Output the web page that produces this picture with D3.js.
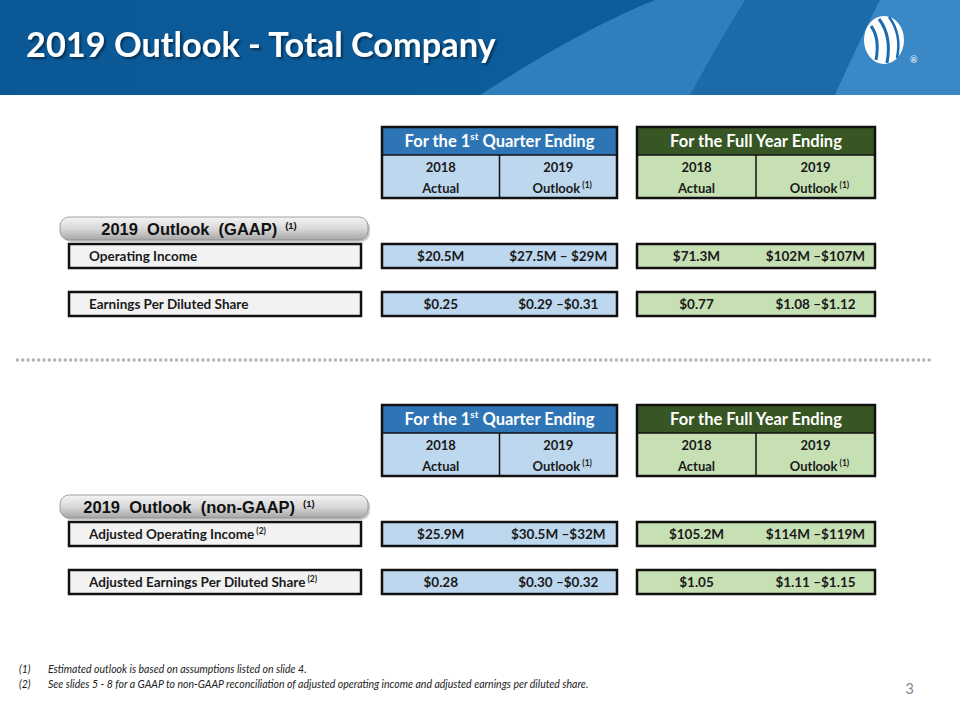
<!DOCTYPE html>
<html><head><meta charset="utf-8">
<script src="https://cdn.jsdelivr.net/npm/d3@7"></script>
<style>body{margin:0;background:#fff}svg{display:block}</style>
</head><body>
<script>
// ---------- data ----------
const title = "2019 Outlook - Total Company";
const periodHeaders = ["For the 1st Quarter Ending", "For the Full Year Ending"];
const subHeaders = [["2018","Actual"],["2019","Outlook"],["2018","Actual"],["2019","Outlook"]];
const sectionTitles = ["2019  Outlook  (GAAP)", "2019  Outlook  (non-GAAP)"];
const gaapMetrics = ["Operating Income", "Earnings Per Diluted Share"];
const gaapQ1 = [["$20.5M", "$27.5M \u2013 $29M"], ["$0.25", "$0.29 \u2013$0.31"]];
const gaapFY = [["$71.3M", "$102M \u2013$107M"], ["$0.77", "$1.08 \u2013$1.12"]];
const nonGaapMetrics = ["Adjusted Operating Income", "Adjusted Earnings Per Diluted Share"];
const nonGaapQ1 = [["$25.9M", "$30.5M \u2013$32M"], ["$0.28", "$0.30 \u2013$0.32"]];
const nonGaapFY = [["$105.2M", "$114M \u2013$119M"], ["$1.05", "$1.11 \u2013$1.15"]];
const footnotes = [["(1)", "Estimated outlook is based on assumptions listed on slide 4."],
                   ["(2)", "See slides 5 - 8 for a GAAP to non-GAAP reconciliation of adjusted operating income and adjusted earnings per diluted share."]];
const pageNumber = "3";

// ---------- layout ----------
const W = 960, H = 720;
const svg = d3.select("body").append("svg").attr("width", W).attr("height", H);
const F = "Lato, 'Open Sans', sans-serif";
const defs = svg.append("defs");

// banner
const bg = defs.append("linearGradient").attr("id","bannerG").attr("x1",0).attr("x2",1).attr("y1",0).attr("y2",0);
bg.append("stop").attr("offset",0).attr("stop-color","#0b5896");
bg.append("stop").attr("offset",1).attr("stop-color","#0d5f9e");
svg.append("rect").attr("width",W).attr("height",95).attr("fill","url(#bannerG)");
svg.append("path").attr("d","M480,95 Q580,30 655,0 L960,0 L960,95 Z").attr("fill","#2f7fbf");
svg.append("path").attr("d","M690,95 Q720,40 745,0 L880,0 Q860,40 835,95 Z").attr("fill","#1d6aa9");
svg.append("path").attr("d","M835,95 Q860,40 880,0 L960,0 L960,95 Z").attr("fill","#3a88c6");
const sh = defs.append("filter").attr("id","tshadow").attr("x","-5%").attr("y","-20%").attr("width","110%").attr("height","150%");
sh.append("feDropShadow").attr("dx",2).attr("dy",2).attr("stdDeviation",1).attr("flood-color","#000").attr("flood-opacity",0.45);
svg.append("text").attr("x",26).attr("y",57).attr("fill","#fff").attr("filter","url(#tshadow)")
  .attr("font-family",F).attr("font-weight",700).attr("font-size",34.3).text(title);

// logo
const logo = svg.append("g").attr("transform","translate(884,40)");
logo.append("ellipse").attr("rx",20).attr("ry",24).attr("fill","#fff");
logo.append("path").attr("d","M-13,-14 Q-4,-2 -8,20").attr("stroke","#1a6bb0").attr("stroke-width",3).attr("fill","none");
logo.append("path").attr("d","M-5,-21 Q8,-4 3,23").attr("stroke","#1a6bb0").attr("stroke-width",3).attr("fill","none");
logo.append("path").attr("d","M5,-23 Q18,-6 13,18").attr("stroke","#1a6bb0").attr("stroke-width",2.5).attr("fill","none");
svg.append("text").attr("x",910).attr("y",63).attr("fill","#fff").attr("font-family",F).attr("font-size",9).text("\u00AE");

// scales for value columns
const groupX = d3.scaleOrdinal().domain([0,1]).range([382, 637]);
const groupW = [235, 238];
const colX = d3.scalePoint().domain([0,1]).range([0.25, 0.75]);
const headFill = ["#2e75b6", "#375623"];
const subFill = ["#bdd7ee", "#c6e0b4"];

function header(y0) {
  [0,1].forEach(g => {
    const x = groupX(g), w = groupW[g];
    svg.append("rect").attr("x",x).attr("y",y0).attr("width",w).attr("height",28).attr("fill",headFill[g]);
    svg.append("rect").attr("x",x).attr("y",y0+28).attr("width",w).attr("height",43).attr("fill",subFill[g]);
    svg.append("line").attr("x1",x).attr("x2",x+w).attr("y1",y0+28).attr("y2",y0+28).attr("stroke","#111").attr("stroke-width",1.5);
    svg.append("line").attr("x1",x+w/2).attr("x2",x+w/2).attr("y1",y0+28).attr("y2",y0+71).attr("stroke","#111").attr("stroke-width",1.5);
    svg.append("rect").attr("x",x).attr("y",y0).attr("width",w).attr("height",71).attr("fill","none").attr("stroke","#111").attr("stroke-width",2.5);
    const t = svg.append("text").attr("x",x+w/2).attr("y",y0+20).attr("text-anchor","middle").attr("fill","#fff")
      .attr("font-family",F).attr("font-weight",700).attr("font-size",16.5);
    if (g===0) {
      t.append("tspan").text("For the 1");
      t.append("tspan").attr("dy",-7).attr("font-size",10).text("st");
      t.append("tspan").attr("dy",7).text(" Quarter Ending");
    } else t.text(periodHeaders[1]);
    [0,1].forEach(c => {
      const s = subHeaders[g*2+c];
      const cx = x + w*colX(c);
      svg.append("text").attr("x",cx).attr("y",y0+45).attr("text-anchor","middle").attr("fill","#1a1a1a")
        .attr("font-family",F).attr("font-weight",700).attr("font-size",13).text(s[0]);
      const t2 = svg.append("text").attr("x",cx + (c===1?4:0)).attr("y",y0+66).attr("text-anchor","middle").attr("fill","#1a1a1a")
        .attr("font-family",F).attr("font-weight",700).attr("font-size",13);
      t2.append("tspan").text(s[1]);
      if (c===1) { t2.append("tspan").attr("dy",-5).attr("font-size",8.5).text(" (1)"); }
    });
  });
}

function pill(y0, label) {
  const gid = "pillG" + y0;
  const pg = defs.append("linearGradient").attr("id",gid).attr("x1",0).attr("x2",0).attr("y1",0).attr("y2",1);
  pg.append("stop").attr("offset",0).attr("stop-color","#f4f4f4");
  pg.append("stop").attr("offset",0.5).attr("stop-color","#d9d9d9");
  pg.append("stop").attr("offset",1).attr("stop-color","#a6a6a6");
  svg.append("rect").attr("x",62).attr("y",y0+2).attr("width",308).attr("height",23).attr("rx",9).attr("fill","#999").attr("opacity",0.5);
  svg.append("rect").attr("x",60).attr("y",y0).attr("width",308).attr("height",23).attr("rx",9).attr("fill",`url(#${gid})`)
    .attr("stroke","#8c8c8c").attr("stroke-width",0.8);
  const t = svg.append("text").attr("x",199).attr("y",y0+18).attr("text-anchor","middle").attr("fill","#111").style("white-space","pre")
    .attr("font-family","'Liberation Sans', Arial, sans-serif").attr("font-weight",700).attr("font-size",16.5);
  t.append("tspan").text(label);
  t.append("tspan").attr("dy",-6).attr("font-size",9.5).text("   (1)");
}

function rows(y0, metrics, q1, fy, sup) {
  metrics.forEach((m, i) => {
    const y = y0 + i*48;
    svg.append("rect").attr("x",69).attr("y",y).attr("width",292).attr("height",24).attr("fill","#f2f2f2")
      .attr("stroke","#111").attr("stroke-width",2.5);
    const t = svg.append("text").attr("x",89).attr("y",y+17).attr("fill","#1a1a1a")
      .attr("font-family",F).attr("font-weight",700).attr("font-size",13.5);
    t.append("tspan").text(m);
    if (sup) t.append("tspan").attr("dy",-5).attr("font-size",8.5).text(" (2)");
    [q1[i], fy[i]].forEach((vals, g) => {
      const x = groupX(g), w = groupW[g];
      svg.append("rect").attr("x",x).attr("y",y).attr("width",w).attr("height",24).attr("fill",subFill[g])
        .attr("stroke","#111").attr("stroke-width",2.5);
      vals.forEach((v, c) => {
        svg.append("text").attr("x",x + w*colX(c)).attr("y",y+17).attr("text-anchor","middle").attr("fill","#1a1a1a")
          .attr("font-family",F).attr("font-weight",700).attr("font-size",13.5).text(v);
      });
    });
  });
}

header(127);
pill(217, sectionTitles[0]);
rows(244, gaapMetrics, gaapQ1, gaapFY, false);

svg.append("line").attr("x1",16).attr("x2",932).attr("y1",360).attr("y2",360)
  .attr("stroke","#b3b3b3").attr("stroke-width",3).attr("stroke-dasharray","3,2.3");

header(405);
pill(495, sectionTitles[1]);
rows(522, nonGaapMetrics, nonGaapQ1, nonGaapFY, true);

footnotes.forEach((f, i) => {
  const y = 673 + i*15;
  svg.append("text").attr("x",19).attr("y",y).attr("font-family",F).attr("font-style","italic").attr("font-size",10.5).attr("fill","#222").text(f[0]);
  svg.append("text").attr("x",48).attr("y",y).attr("font-family",F).attr("font-style","italic").attr("font-size",10.5).attr("fill","#222").text(f[1]);
});
svg.append("text").attr("x",914).attr("y",694).attr("text-anchor","end").attr("font-family",F).attr("font-size",15).attr("fill","#8c8c8c").text(pageNumber);
</script>
</body></html>
